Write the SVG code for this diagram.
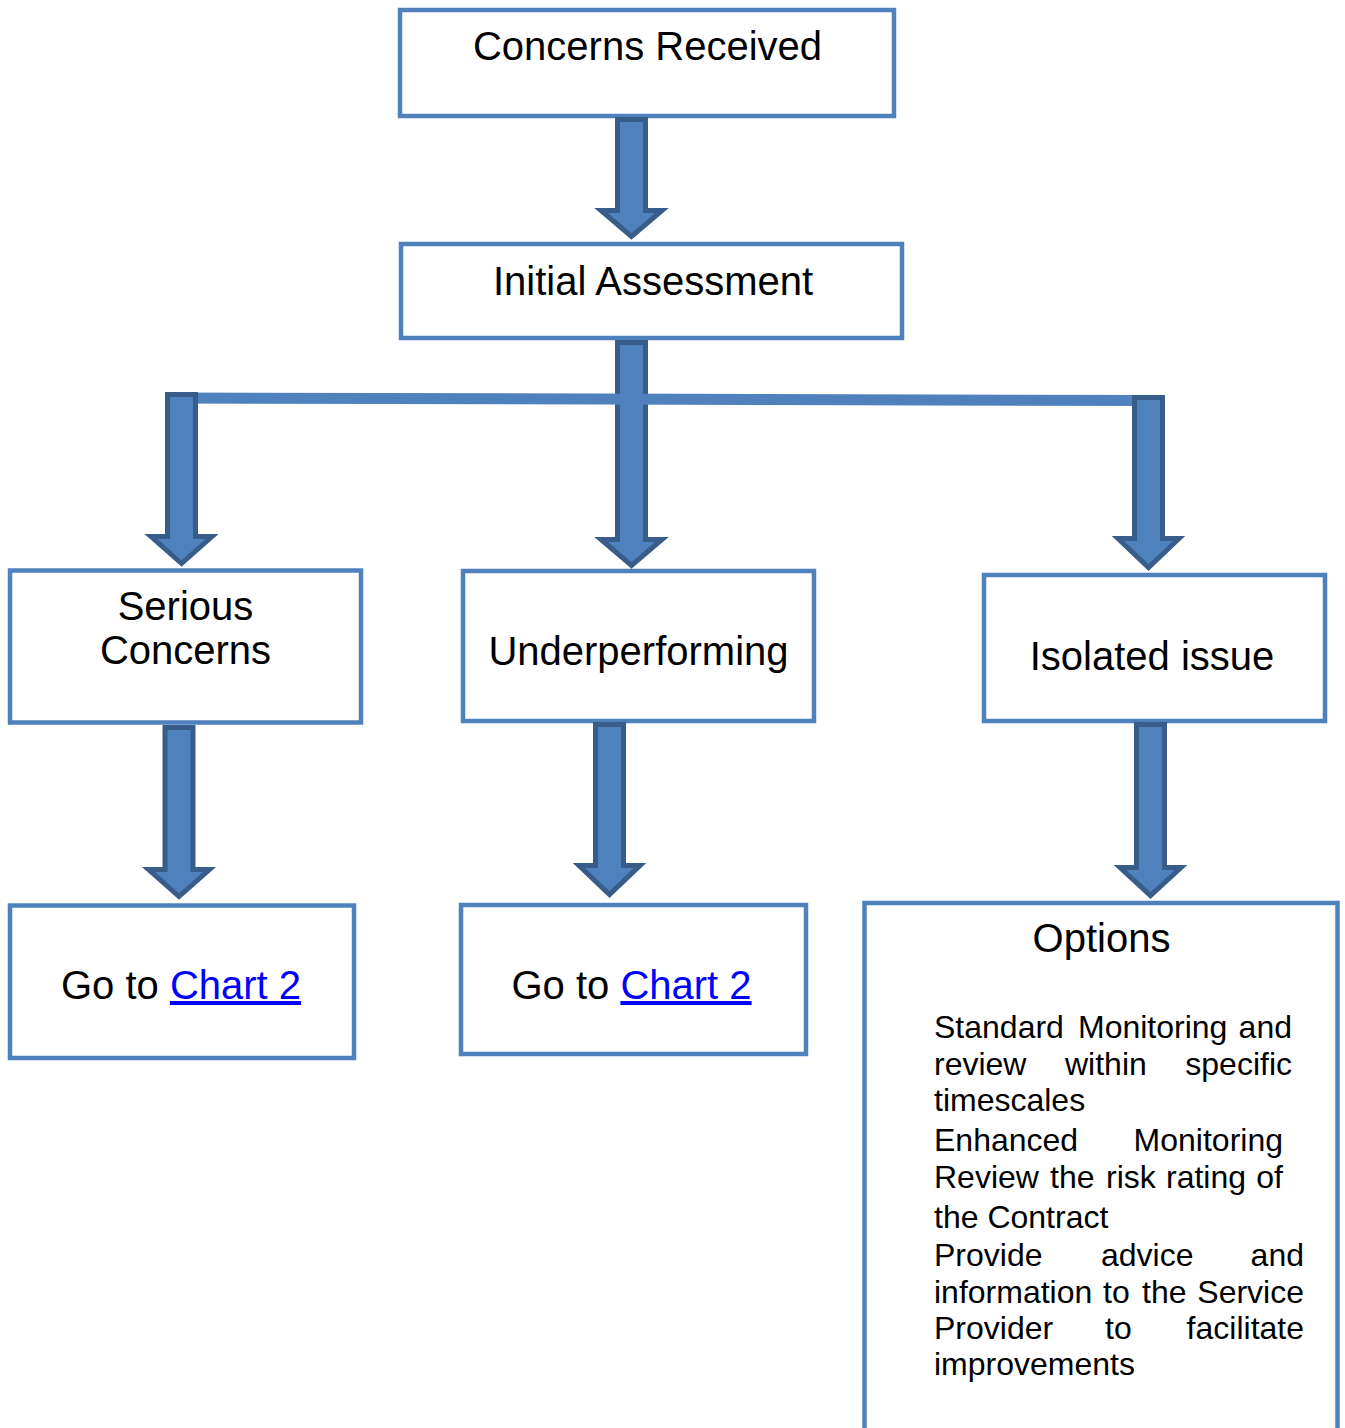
<svg xmlns="http://www.w3.org/2000/svg" width="1345" height="1428" viewBox="0 0 1345 1428">
<style>
.box{fill:#FFFFFF;stroke:#4F81BD;stroke-width:4.5}
.arrow{fill:#4F81BD;stroke:#385D8A;stroke-width:5;stroke-linejoin:miter}
.bar{fill:none;stroke:#4F81BD;stroke-width:11}
.t{font-family:"Liberation Sans",Arial,sans-serif;font-size:40px;fill:#000000;text-anchor:middle}
.b{font-family:"Liberation Sans",Arial,sans-serif;font-size:32px;fill:#000000}
.link{fill:#0000FF;text-decoration:underline}
</style>
<rect width="1345" height="1428" fill="#FFFFFF"/>
<g id="node-concerns-received">
<rect class="box" x="400" y="10" width="494" height="106"/>
<text class="t" x="647.5" y="60">Concerns Received</text>
</g>
<g id="node-initial-assessment">
<rect class="box" x="401" y="244" width="501" height="94"/>
<text class="t" x="653" y="295">Initial Assessment</text>
</g>
<g id="node-serious-concerns">
<rect class="box" x="10" y="570.5" width="351" height="152"/>
<text class="t" x="185.5" y="620">Serious</text>
<text class="t" x="185.5" y="664">Concerns</text>
</g>
<g id="node-underperforming">
<rect class="box" x="463" y="571" width="351" height="150"/>
<text class="t" x="638.5" y="665">Underperforming</text>
</g>
<g id="node-isolated-issue">
<rect class="box" x="984" y="575" width="341" height="146"/>
<text class="t" x="1152" y="670">Isolated issue</text>
</g>
<g id="node-goto-chart2-left">
<rect class="box" x="10" y="905.5" width="344" height="152.5"/>
<text class="t" x="181" y="999">Go to <tspan class="link">Chart 2</tspan></text>
</g>
<g id="node-goto-chart2-middle">
<rect class="box" x="461" y="905" width="345" height="149"/>
<text class="t" x="631.5" y="999">Go to <tspan class="link">Chart 2</tspan></text>
</g>
<g id="node-options">
<rect class="box" x="864.5" y="903" width="473" height="560"/>
<text class="t" x="1101.5" y="952">Options</text>
<text class="b" x="934" y="1038">Standard</text>
<text class="b" x="1078" y="1038">Monitoring</text>
<text class="b" x="1292" y="1038" text-anchor="end">and</text>
<text class="b" x="934" y="1075">review</text>
<text class="b" x="1065" y="1075">within</text>
<text class="b" x="1292" y="1075" text-anchor="end">specific</text>
<text class="b" x="934" y="1111">timescales</text>
<text class="b" x="934" y="1151">Enhanced</text>
<text class="b" x="1283" y="1151" text-anchor="end">Monitoring</text>
<text class="b" x="934" y="1188">Review</text>
<text class="b" x="1050" y="1188">the</text>
<text class="b" x="1106" y="1188">risk</text>
<text class="b" x="1166" y="1188">rating</text>
<text class="b" x="1283" y="1188" text-anchor="end">of</text>
<text class="b" x="934" y="1228">the Contract</text>
<text class="b" x="934" y="1266">Provide</text>
<text class="b" x="1101" y="1266">advice</text>
<text class="b" x="1304" y="1266" text-anchor="end">and</text>
<text class="b" x="934" y="1303">information</text>
<text class="b" x="1103" y="1303">to</text>
<text class="b" x="1142" y="1303">the</text>
<text class="b" x="1304" y="1303" text-anchor="end">Service</text>
<text class="b" x="934" y="1339">Provider</text>
<text class="b" x="1105" y="1339">to</text>
<text class="b" x="1304" y="1339" text-anchor="end">facilitate</text>
<text class="b" x="934" y="1375">improvements</text>
</g>
<g id="connectors">
<polygon class="arrow" points="617.5,119.5 645.5,119.5 645.5,210.5 662,210.5 631.5,236.5 601,210.5 617.5,210.5"/>
<polygon class="arrow" points="617.5,342.5 645.5,342.5 645.5,539.5 662,539.5 631.5,565.5 601,539.5 617.5,539.5"/>
<line class="bar" x1="165" y1="398" x2="1164" y2="400.5"/>
<polygon class="arrow" points="167.5,394.5 195.5,394.5 195.5,536.5 212,536.5 181.5,563.5 151,536.5 167.5,536.5"/>
<polygon class="arrow" points="1134.5,397.5 1162.5,397.5 1162.5,538.5 1179,538.5 1148.5,567.5 1118,538.5 1134.5,538.5"/>
<polygon class="arrow" points="165,727.5 193,727.5 193,869.5 209.5,869.5 179,896.5 148.5,869.5 165,869.5"/>
<polygon class="arrow" points="595.5,724.5 623.5,724.5 623.5,865.5 640,865.5 609.5,894.5 579,865.5 595.5,865.5"/>
<polygon class="arrow" points="1136.5,724.5 1164.5,724.5 1164.5,867.5 1181,867.5 1150.5,895.5 1120,867.5 1136.5,867.5"/>
</g>
</svg>
